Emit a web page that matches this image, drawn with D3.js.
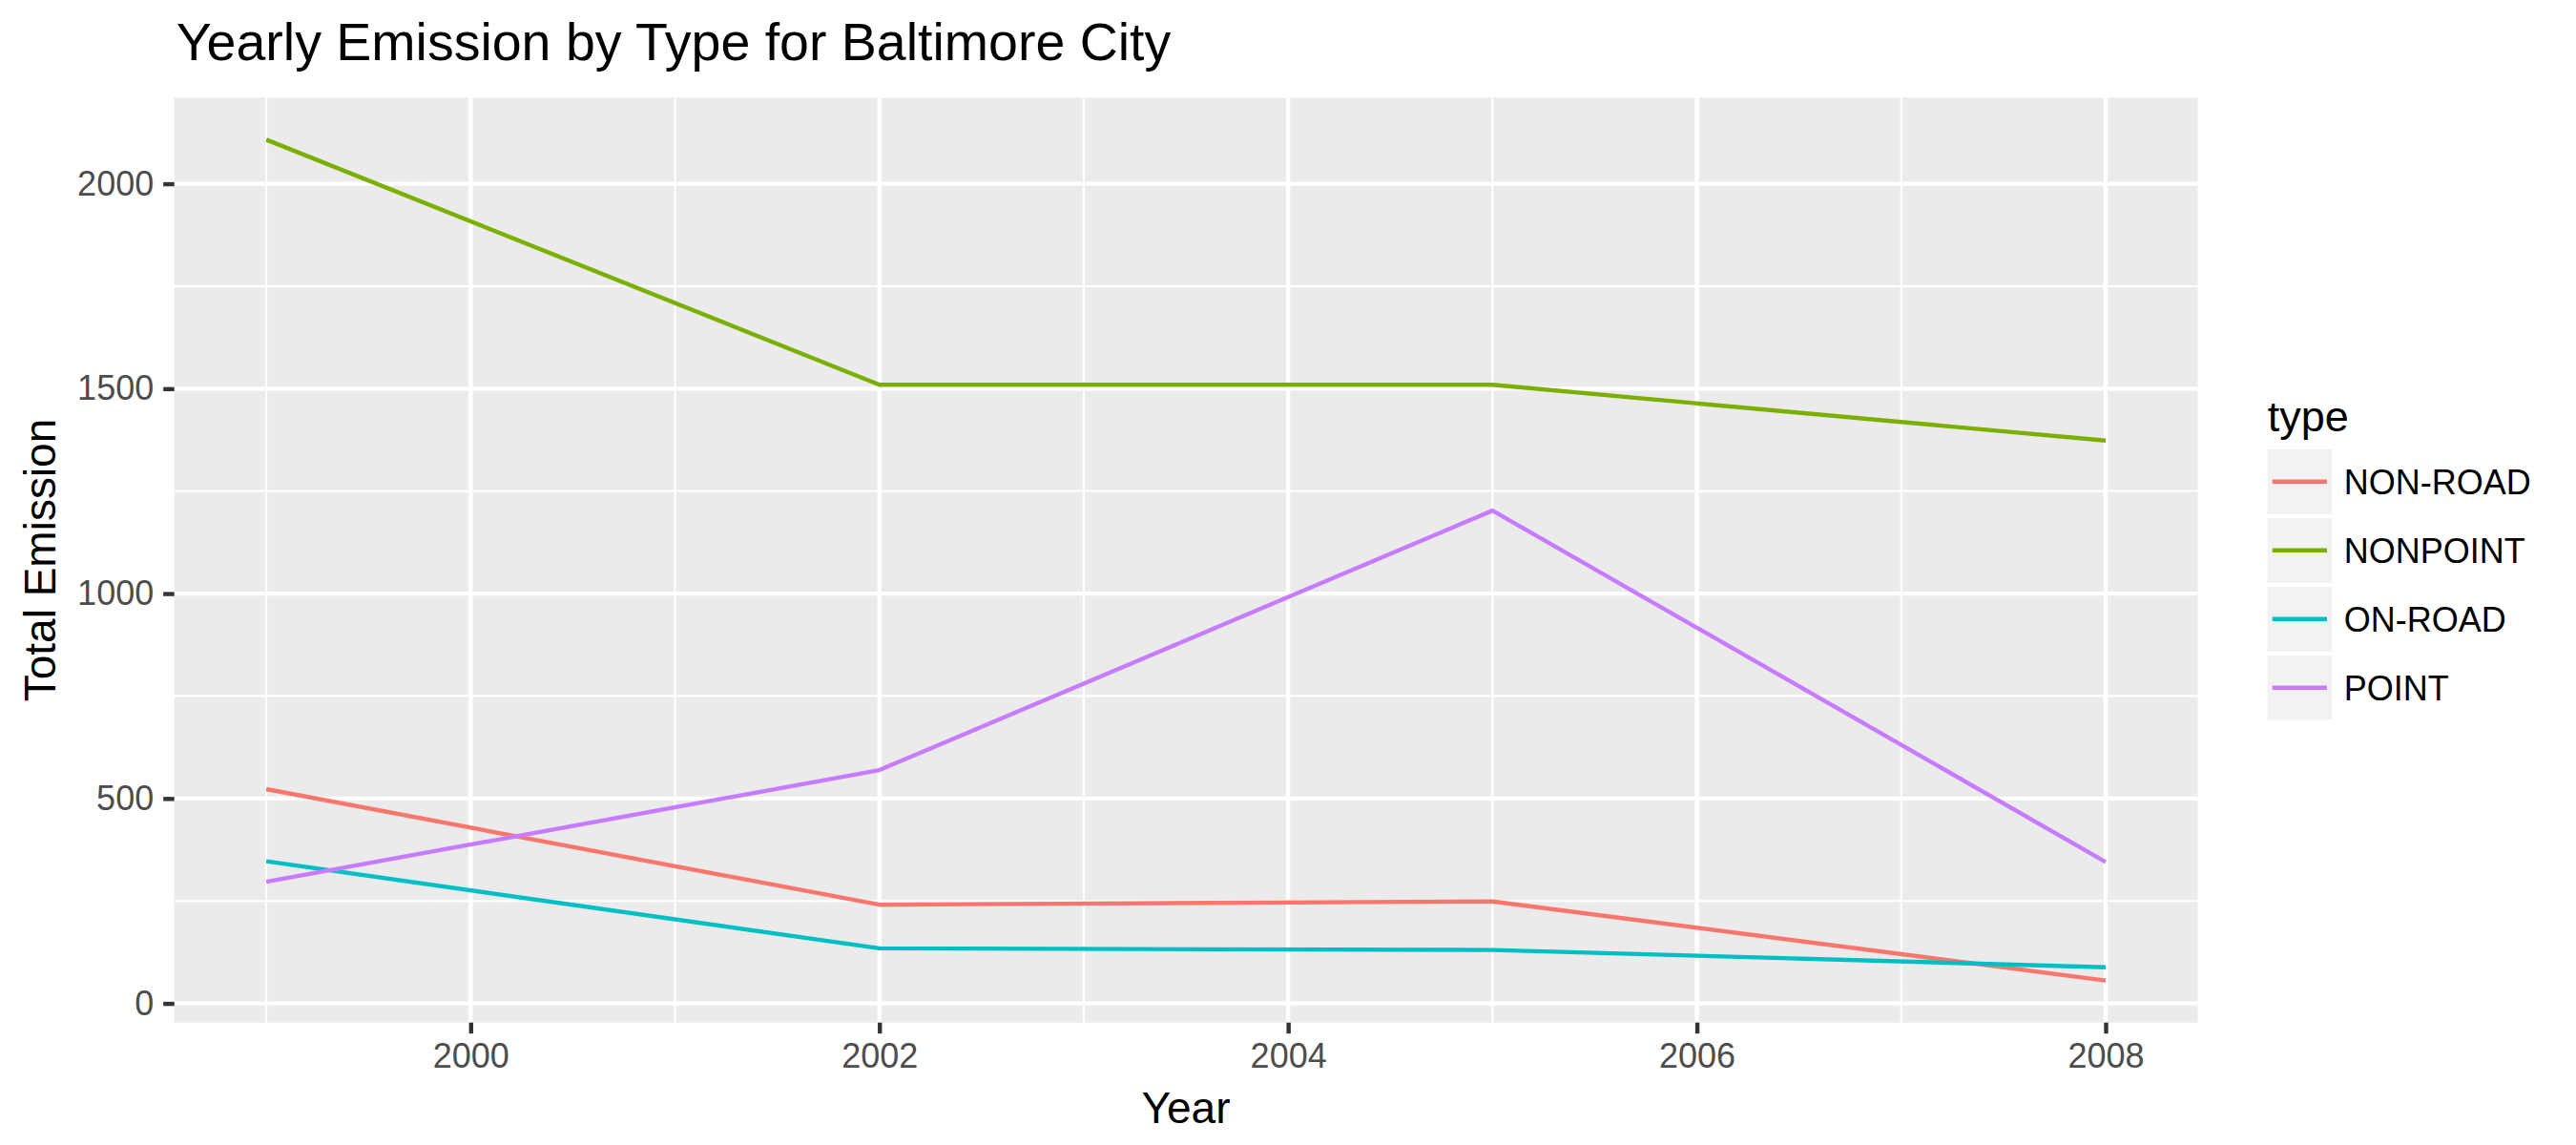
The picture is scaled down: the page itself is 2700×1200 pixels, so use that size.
<!DOCTYPE html>
<html>
<head>
<meta charset="utf-8">
<script src="https://cdn.jsdelivr.net/npm/d3@7"></script>
<style>
  html, body { margin: 0; padding: 0; background: #fff; }
  text { font-family: "Liberation Sans", Arial, Helvetica, sans-serif; }
</style>
</head>
<body>
<svg id="chart" width="2700" height="1200"></svg>
<script>
// ---- data ----
const years = [1999, 2002, 2005, 2008];
const types = ["NON-ROAD", "NONPOINT", "ON-ROAD", "POINT"];
const nonRoad  = [522.9, 240.8, 248.9, 55.8];
const nonPoint = [2107.6, 1509.5, 1509.5, 1373.2];
const onRoad   = [346.8, 134.3, 130.4, 88.3];
const point    = [296.8, 569.3, 1202.5, 345.0];
const xTicks = [2000, 2002, 2004, 2006, 2008];
const xMinor = [1999, 2001, 2003, 2005, 2007];
const yTicks = [0, 500, 1000, 1500, 2000];
const yMinor = [250, 750, 1250, 1750];
const colors = ["#F8766D", "#7CAE00", "#00BFC4", "#C77CFF"];

const seriesValues = [nonRoad, nonPoint, onRoad, point];
const series = types.map((t, i) => ({
  type: t, color: colors[i],
  values: years.map((yr, j) => ({ year: yr, value: seriesValues[i][j] }))
}));

// ---- layout ----
const svg = d3.select("#chart");
const P = { left: 182.7, right: 2303.4, top: 102.3, bottom: 1071.7 };

const xExt = d3.extent(years);
const xPad = (xExt[1] - xExt[0]) * 0.05;
const x = d3.scaleLinear().domain([xExt[0] - xPad, xExt[1] + xPad]).range([P.left, P.right]);

const allVals = seriesValues.flat();
const yExt = d3.extent(allVals);
const yPad = (yExt[1] - yExt[0]) * 0.05;
const y = d3.scaleLinear().domain([yExt[0] - yPad, yExt[1] + yPad]).range([P.bottom, P.top]);

svg.append("rect").attr("x", 0).attr("y", 0).attr("width", 2700).attr("height", 1200).attr("fill", "#fff");

// panel
svg.append("rect")
  .attr("x", P.left).attr("y", P.top)
  .attr("width", P.right - P.left).attr("height", P.bottom - P.top)
  .attr("fill", "#EBEBEB");

const grid = svg.append("g");
// minor grid
grid.selectAll(".xminor").data(xMinor).join("line")
  .attr("x1", d => x(d)).attr("x2", d => x(d)).attr("y1", P.top).attr("y2", P.bottom)
  .attr("stroke", "#fff").attr("stroke-width", 2.2);
grid.selectAll(".yminor").data(yMinor).join("line")
  .attr("y1", d => y(d)).attr("y2", d => y(d)).attr("x1", P.left).attr("x2", P.right)
  .attr("stroke", "#fff").attr("stroke-width", 2.2);
// major grid
grid.selectAll(".xmajor").data(xTicks).join("line")
  .attr("x1", d => x(d)).attr("x2", d => x(d)).attr("y1", P.top).attr("y2", P.bottom)
  .attr("stroke", "#fff").attr("stroke-width", 4.4);
grid.selectAll(".ymajor").data(yTicks).join("line")
  .attr("y1", d => y(d)).attr("y2", d => y(d)).attr("x1", P.left).attr("x2", P.right)
  .attr("stroke", "#fff").attr("stroke-width", 4.4);

// lines
const line = d3.line().x(d => x(d.year)).y(d => y(d.value));
svg.append("g").selectAll("path").data(series).join("path")
  .attr("d", d => line(d.values))
  .attr("fill", "none")
  .attr("stroke", d => d.color)
  .attr("stroke-width", 4.4)
  .attr("stroke-linejoin", "round");

// axes
const xAxis = svg.append("g").attr("transform", `translate(0,${P.bottom})`)
  .call(d3.axisBottom(x).tickValues(xTicks).tickFormat(d3.format("d")).tickSize(11.5).tickPadding(10));
const yAxis = svg.append("g").attr("transform", `translate(${P.left},0)`)
  .call(d3.axisLeft(y).tickValues(yTicks).tickFormat(d3.format("d")).tickSize(11.5).tickPadding(10));
[xAxis, yAxis].forEach(a => {
  a.select(".domain").remove();
  a.selectAll(".tick line").attr("stroke", "#333333").attr("stroke-width", 4.4);
  a.selectAll(".tick text").attr("fill", "#4D4D4D").style("font-size", "36px")
    .style("font-family", "'Liberation Sans', Arial, Helvetica, sans-serif");
});

// title
svg.append("text").attr("x", P.left + 2).attr("y", 63.3)
  .style("font-size", "55.5px").attr("fill", "#000")
  .text("Yearly Emission by Type for Baltimore City");

// axis titles
svg.append("text").attr("x", (P.left + P.right) / 2).attr("y", 1176.7)
  .attr("text-anchor", "middle").style("font-size", "46px").attr("fill", "#000")
  .text("Year");
svg.append("text")
  .attr("transform", `translate(58,${(P.top + P.bottom) / 2}) rotate(-90)`)
  .attr("text-anchor", "middle").style("font-size", "46px").attr("fill", "#000")
  .text("Total Emission");

// legend
const lg = svg.append("g").attr("transform", "translate(2376.7,0)");
lg.append("text").attr("x", 0).attr("y", 451.7).style("font-size", "45px").attr("fill", "#000").text("type");
const keyTop = 471, keyStep = 72, keySize = 67.6;
const items = lg.selectAll(".item").data(series).join("g")
  .attr("transform", (d, i) => `translate(0,${keyTop + i * keyStep})`);
items.append("rect").attr("width", keySize).attr("height", keySize).attr("fill", "#F2F2F2");
items.append("line").attr("x1", 5).attr("x2", 62.3).attr("y1", keySize / 2).attr("y2", keySize / 2)
  .attr("stroke", d => d.color).attr("stroke-width", 4.4);
items.append("text").attr("x", 80).attr("y", keySize / 2).attr("dy", "0.36em")
  .style("font-size", "36px").attr("fill", "#000").text(d => d.type);
</script>
</body>
</html>
